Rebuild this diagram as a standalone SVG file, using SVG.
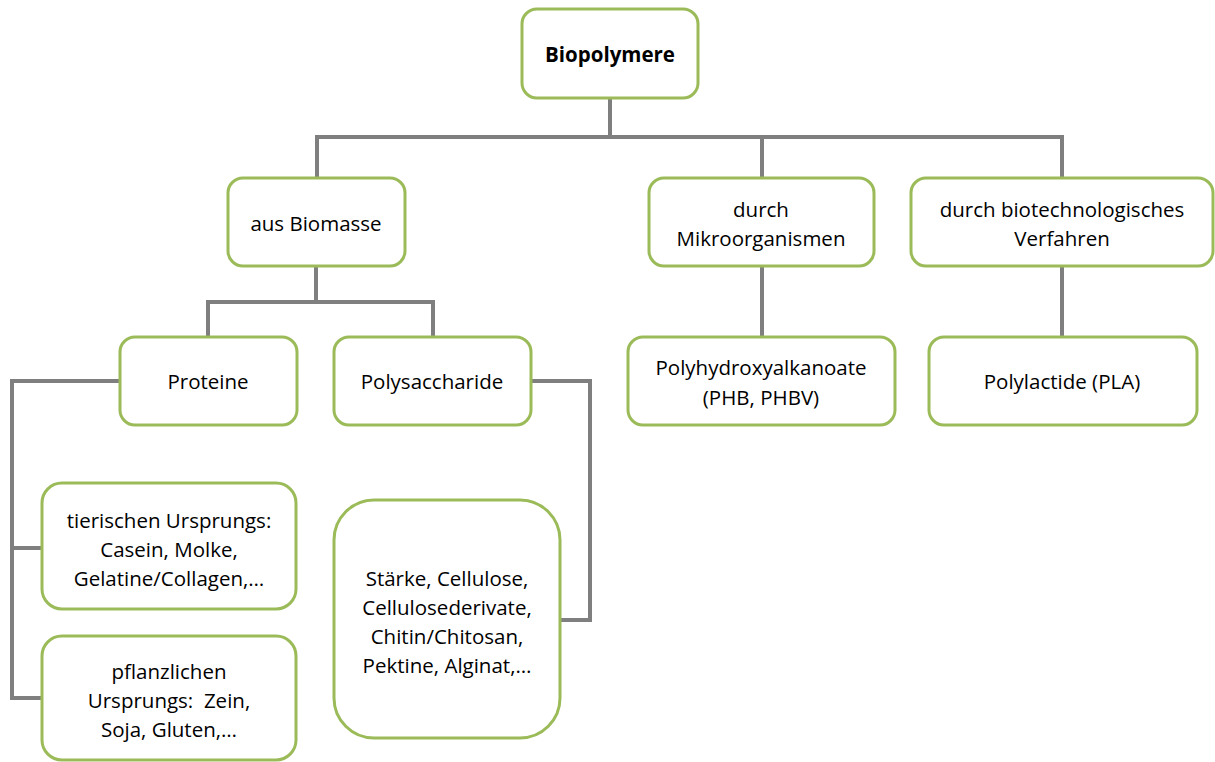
<svg xmlns="http://www.w3.org/2000/svg" width="1215" height="762" viewBox="0 0 1215 762">
<style>
.box{fill:#fff;stroke:#9BBB59;stroke-width:3}
.t{font-family:"Open Sans","Noto Sans",sans-serif;font-size:20.5px;fill:#000;text-anchor:middle;dominant-baseline:central}
.b{font-weight:bold}
.c{fill:none;stroke:#7F7F7F;stroke-width:4;stroke-linejoin:miter}
</style>
<rect width="1215" height="762" fill="#fff"/>
<g id="connectors">
<path class="c" d="M610,98 V137 M317,178 V137 H1062 V178 M762,137 V178"/>
<path class="c" d="M316,266 V302 M208,337 V302 H433 V337"/>
<path class="c" d="M762,266 V337"/>
<path class="c" d="M1062,266 V337"/>
<path class="c" d="M120,381 H12 V698 H42 M12,548 H42"/>
<path class="c" d="M531,381 H590 V620 H560"/>
</g>
<g id="biopolymere"><rect class="box" x="522" y="9" width="176" height="89" rx="15"/><text class="t b" x="610" y="54">Biopolymere</text></g>
<g id="biomasse"><rect class="box" x="228" y="178" width="177" height="88" rx="15"/><text class="t" x="316" y="223">aus Biomasse</text></g>
<g id="mikro"><rect class="box" x="649" y="178" width="225" height="88" rx="15"/><text class="t" x="761" y="209">durch</text><text class="t" x="761" y="238">Mikroorganismen</text></g>
<g id="biotech"><rect class="box" x="911" y="178" width="302" height="88" rx="15"/><text class="t" x="1062" y="209">durch biotechnologisches</text><text class="t" x="1062" y="238">Verfahren</text></g>
<g id="proteine"><rect class="box" x="120" y="337" width="177" height="88" rx="15"/><text class="t" x="208" y="381">Proteine</text></g>
<g id="polysaccharide"><rect class="box" x="334" y="337" width="197" height="88" rx="15"/><text class="t" x="432" y="381">Polysaccharide</text></g>
<g id="pha"><rect class="box" x="628" y="337" width="267" height="88" rx="15"/><text class="t" x="761" y="367">Polyhydroxyalkanoate</text><text class="t" x="761" y="397">(PHB, PHBV)</text></g>
<g id="pla"><rect class="box" x="929" y="337" width="268" height="88" rx="15"/><text class="t" x="1062" y="381">Polylactide (PLA)</text></g>
<g id="tierisch"><rect class="box" x="42" y="483" width="254" height="126" rx="20"/><text class="t" x="169" y="520">tierischen Ursprungs:</text><text class="t" x="169" y="549">Casein, Molke,</text><text class="t" x="169" y="578">Gelatine/Collagen,…</text></g>
<g id="pflanzlich"><rect class="box" x="42" y="636" width="254" height="124" rx="20"/><text class="t" x="169" y="671">pflanzlichen</text><text class="t" x="169" y="700" xml:space="preserve">Ursprungs:  Zein,</text><text class="t" x="169" y="729">Soja, Gluten,…</text></g>
<g id="staerke"><rect class="box" x="334" y="500" width="226" height="238" rx="40"/><text class="t" x="447" y="578">Stärke, Cellulose,</text><text class="t" x="447" y="607">Cellulosederivate,</text><text class="t" x="447" y="636">Chitin/Chitosan,</text><text class="t" x="447" y="665">Pektine, Alginat,…</text></g>
</svg>
